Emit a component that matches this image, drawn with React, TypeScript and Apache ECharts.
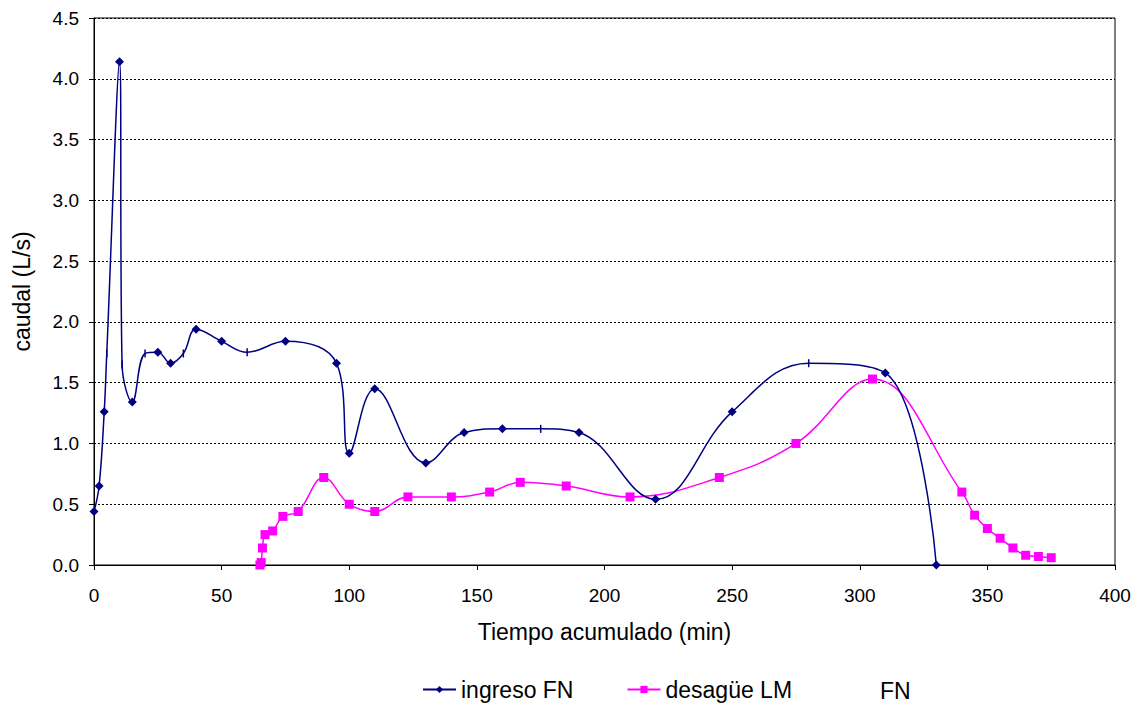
import React, { useEffect, useRef } from "react";
import * as echarts from "echarts";

// ingreso FN: [min, L/s]; "tick" points drawn with a dash marker
const ingresoX = [0, 2, 4, 5, 10, 11, 15, 20, 25, 30, 35, 40, 50, 60, 75, 95, 100, 110, 130, 145, 160, 175, 190, 220, 250, 280, 310, 330];
const ingresoY = [0.44, 0.65, 1.26, 1.74, 4.14, 1.65, 1.34, 1.74, 1.75, 1.66, 1.74, 1.94, 1.84, 1.75, 1.84, 1.66, 0.92, 1.45, 0.84, 1.09, 1.12, 1.12, 1.09, 0.54, 1.26, 1.66, 1.58, 0.0];
const ingresoTick = [false, false, false, true, false, true, false, true, false, false, true, false, false, true, false, false, false, false, false, false, false, true, false, false, false, true, false, false];

const desagueX = [65, 65.5, 66, 67, 70, 74, 80, 90, 100, 110, 123, 140, 155, 167, 185, 210, 245, 275, 305, 340, 345, 350, 355, 360, 365, 370, 375];
const desagueY = [0.0, 0.02, 0.14, 0.25, 0.28, 0.4, 0.44, 0.72, 0.5, 0.44, 0.56, 0.56, 0.6, 0.68, 0.65, 0.56, 0.72, 1.0, 1.53, 0.6, 0.41, 0.3, 0.22, 0.14, 0.08, 0.07, 0.06];

const seriesNames = ["ingreso FN", "desagüe LM"];
const extraLegendText = "FN";
const xTitle = "Tiempo acumulado (min)";
const yTitle = "caudal (L/s)";

const FONT = "Liberation Sans, Arial, sans-serif";

export default function App() {
  const ref = useRef<HTMLDivElement>(null);
  useEffect(() => {
    if (!ref.current) return;
    const chart = echarts.init(ref.current, undefined, { renderer: "svg" });
    const ingresoData = ingresoX.map((x, i) =>
      ingresoTick[i]
        ? { value: [x, ingresoY[i]], symbol: "rect", symbolSize: [1.5, 8] }
        : { value: [x, ingresoY[i]] }
    );
    const desagueData = desagueX.map((x, i) => [x, desagueY[i]]);
    chart.setOption({
      animation: false,
      backgroundColor: "#fff",
      textStyle: { fontFamily: FONT },
      grid: {
        left: 94,
        right: 27,
        top: 18,
        bottom: 146,
        show: true,
        borderColor: "#000",
        borderWidth: 1,
        backgroundColor: "transparent",
      },
      legend: {
        top: 673,
        left: 417,
        itemWidth: 33,
        itemHeight: 9,
        itemGap: 53,
        textStyle: { fontFamily: FONT, fontSize: 23, color: "#000" },
        data: seriesNames,
      },
      graphic: [
        {
          type: "text",
          left: 880,
          top: 679,
          style: { text: extraLegendText, font: `23px ${FONT}`, fill: "#000" },
        },
      ],
      xAxis: {
        type: "value",
        min: 0,
        max: 400,
        interval: 50,
        name: xTitle,
        nameLocation: "middle",
        nameGap: 55,
        nameTextStyle: { fontFamily: FONT, fontSize: 23, color: "#000" },
        axisLine: { show: true, onZero: false, lineStyle: { color: "#000", width: 1 } },
        axisTick: { show: true, inside: false, length: 5, lineStyle: { color: "#000" } },
        axisLabel: { fontFamily: FONT, fontSize: 19, color: "#000", margin: 25 - 4 },
        splitLine: { show: false },
      },
      yAxis: {
        type: "value",
        min: 0,
        max: 4.5,
        interval: 0.5,
        name: yTitle,
        nameLocation: "middle",
        nameGap: 61,
        nameRotate: 90,
        nameTextStyle: { fontFamily: FONT, fontSize: 23, color: "#000" },
        axisLine: { show: true, lineStyle: { color: "#000", width: 1 } },
        axisTick: { show: true, inside: false, length: 5, lineStyle: { color: "#000" } },
        axisLabel: {
          fontFamily: FONT,
          fontSize: 19,
          color: "#000",
          margin: 15,
          formatter: (v: number) => v.toFixed(1),
        },
        splitLine: { show: true, lineStyle: { color: "#000", type: [2, 2], width: 1 } },
      },
      series: [
        {
          name: seriesNames[0],
          type: "line",
          data: ingresoData,
          smooth: 0.4,
          symbol: "diamond",
          symbolSize: 9,
          lineStyle: { color: "#000080", width: 1.5 },
          itemStyle: { color: "#000080" },
          z: 3,
        },
        {
          name: seriesNames[1],
          type: "line",
          data: desagueData,
          smooth: 0.4,
          symbol: "rect",
          symbolSize: 9,
          lineStyle: { color: "#FF00FF", width: 1.5 },
          itemStyle: { color: "#FF00FF" },
          z: 2,
        },
      ],
    });
    return () => chart.dispose();
  }, []);
  return <div ref={ref} style={{ width: 1142, height: 711, margin: -8 }} />;
}
